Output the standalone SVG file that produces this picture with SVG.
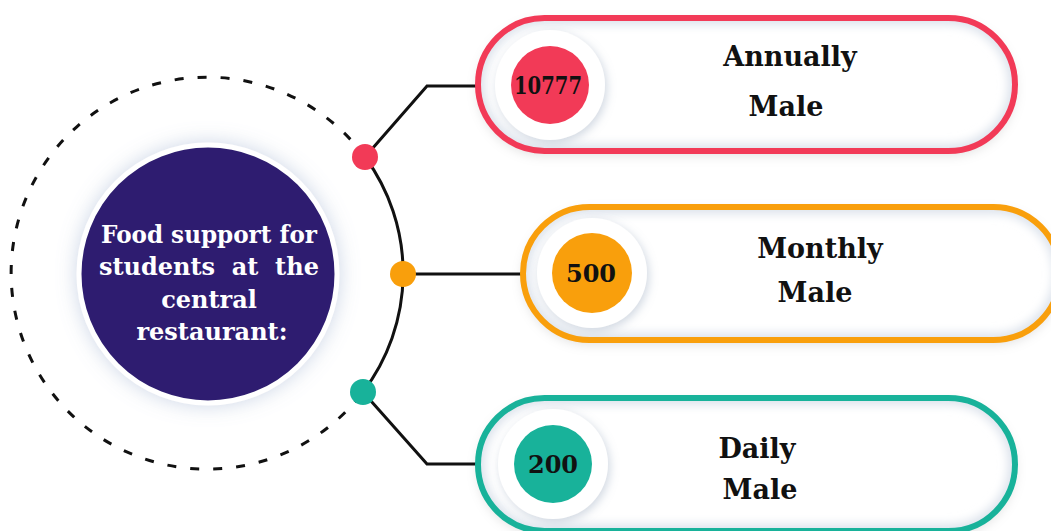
<svg xmlns="http://www.w3.org/2000/svg" width="1051" height="531" viewBox="0 0 1051 531">
<style>
.lbl{font-family:"DejaVu Serif","Liberation Serif",serif;font-weight:bold;font-size:27px;fill:#111;text-anchor:middle}
.num{font-family:"DejaVu Serif","Liberation Serif",serif;font-weight:bold;font-size:24px;fill:#111;text-anchor:middle}
.ctr{font-family:"DejaVu Serif","Liberation Serif",serif;font-weight:bold;font-size:24px;fill:#fff;text-anchor:middle}
.conn{fill:none;stroke:#111;stroke-width:3}
.pillbg{fill:#fff;filter:url(#pillsh)}
.pill{fill:none;stroke-width:6}
.ring{fill:#fff;filter:url(#ringsh)}
.div{stroke:#d5dde8;stroke-width:3;filter:url(#blur2)}
.inner{fill:none;stroke:#dde3ec;stroke-width:14;filter:url(#blur4)}
</style>
<defs>
<filter id="glow" x="-30%" y="-30%" width="160%" height="160%"><feDropShadow dx="0" dy="0" stdDeviation="10" flood-color="#8ea3c8" flood-opacity="0.45"/></filter>
<filter id="pillsh" x="-10%" y="-30%" width="120%" height="160%"><feDropShadow dx="0" dy="4" stdDeviation="6" flood-color="#000" flood-opacity="0.13"/></filter>
<filter id="ringsh" x="-30%" y="-30%" width="160%" height="160%"><feDropShadow dx="2" dy="3" stdDeviation="5" flood-color="#8a9bb5" flood-opacity="0.4"/></filter>
<filter id="blur2"><feGaussianBlur stdDeviation="2"/></filter>
<filter id="blur4" x="-10%" y="-30%" width="120%" height="160%"><feGaussianBlur stdDeviation="5"/></filter>
<clipPath id="c1"><rect x="478" y="18" width="537" height="133" rx="66.5"/></clipPath>
<clipPath id="c2"><rect x="523" y="207" width="537" height="133" rx="66.5"/></clipPath>
<clipPath id="c3"><rect x="478" y="398" width="537" height="133" rx="66.5"/></clipPath>
</defs>
<rect width="1051" height="531" fill="#fff"/>

<g id="connectors">
<path class="conn" d="M365 157 A196 196 0 1 0 363 392" stroke-dasharray="9 14" stroke-width="3.5"/>
<path class="conn" d="M365 157 A196 196 0 0 1 363 392"/>
<polyline class="conn" points="365,157 427,86 480,86"/>
<polyline class="conn" points="403,274 524,274"/>
<polyline class="conn" points="363,392 427,464 480,464"/>
<circle cx="365" cy="157" r="13" fill="#f23a57"/>
<circle cx="403" cy="274" r="13" fill="#f99f0c"/>
<circle cx="363" cy="392" r="13" fill="#18b29a"/>
</g>

<g id="center">
<circle cx="208" cy="274" r="129" fill="#2e1f6f" stroke="#fff" stroke-width="5" filter="url(#glow)"/>
<text class="ctr" x="209" y="243" textLength="216" lengthAdjust="spacingAndGlyphs">Food support for</text>
<text class="ctr" y="275"><tspan x="157">students</tspan><tspan x="245">at</tspan><tspan x="297">the</tspan></text>
<text class="ctr" x="209" y="308">central</text>
<text class="ctr" x="212" y="340">restaurant:</text>
</g>

<g id="annually">
<rect class="pillbg" x="478" y="18" width="537" height="133" rx="66.5"/>
<g clip-path="url(#c1)"><rect class="inner" x="478" y="18" width="537" height="133" rx="66.5"/><line class="div" x1="627" y1="36" x2="627" y2="134"/></g>
<rect class="pill" x="478" y="18" width="537" height="133" rx="66.5" stroke="#f23a57"/>
<circle class="ring" cx="550" cy="85" r="55"/>
<circle cx="550" cy="85" r="39" fill="#f23a57"/>
<text class="num" x="548" y="94" textLength="68" lengthAdjust="spacingAndGlyphs">10777</text>
<text class="lbl" x="790" y="66">Annually</text>
<text class="lbl" x="786" y="116">Male</text>
</g>

<g id="monthly">
<rect class="pillbg" x="523" y="207" width="537" height="133" rx="66.5"/>
<g clip-path="url(#c2)"><rect class="inner" x="523" y="207" width="537" height="133" rx="66.5"/><line class="div" x1="672" y1="225" x2="672" y2="323"/></g>
<rect class="pill" x="523" y="207" width="537" height="133" rx="66.5" stroke="#f99f0c"/>
<circle class="ring" cx="592" cy="273" r="55"/>
<circle cx="592" cy="273" r="40" fill="#f99f0c"/>
<text class="num" x="591" y="282">500</text>
<text class="lbl" x="820" y="258">Monthly</text>
<text class="lbl" x="815" y="302">Male</text>
</g>

<g id="daily">
<rect class="pillbg" x="478" y="398" width="537" height="133" rx="66.5"/>
<g clip-path="url(#c3)"><rect class="inner" x="478" y="398" width="537" height="133" rx="66.5"/><line class="div" x1="627" y1="416" x2="627" y2="514"/></g>
<rect class="pill" x="478" y="398" width="537" height="133" rx="66.5" stroke="#18b29a"/>
<circle class="ring" cx="553" cy="464" r="55"/>
<circle cx="553" cy="464" r="39" fill="#18b29a"/>
<text class="num" x="553" y="473">200</text>
<text class="lbl" x="757" y="458">Daily</text>
<text class="lbl" x="760" y="499">Male</text>
</g>
</svg>
